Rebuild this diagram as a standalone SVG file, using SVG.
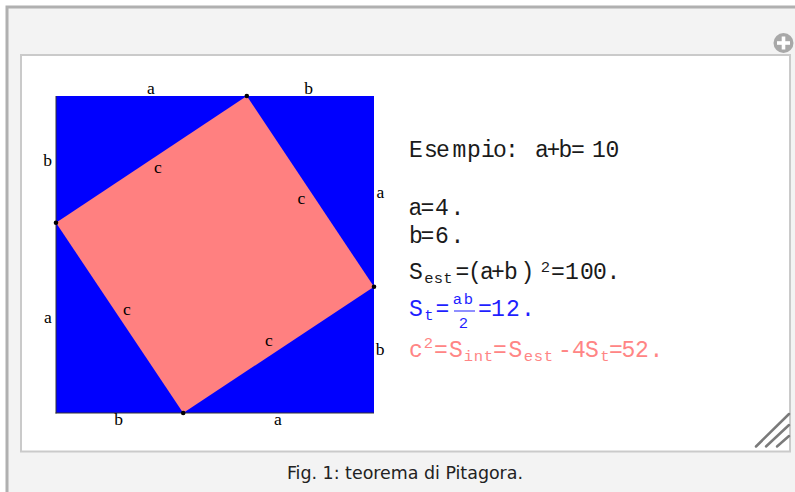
<svg xmlns="http://www.w3.org/2000/svg" width="795" height="492" viewBox="0 0 795 492">
<style>
.lbl{font-family:"Liberation Serif","Times New Roman",serif;font-size:17.5px;fill:#000;text-anchor:middle}
.mono{font-family:"Liberation Mono","Courier New",monospace;font-size:23px;text-anchor:middle}
.sub{font-family:"Liberation Mono","Courier New",monospace;font-size:15.5px;text-anchor:middle}
.k{fill:#1a1a1a}
.bl{fill:#1f1fff}
.pk{fill:#ff8585}
.dot{fill:#000}
.hl{stroke:#7a7a7a;stroke-width:2.5;stroke-linecap:round}
</style>
<g id="frame">
<rect x="7" y="7" width="800" height="500" fill="#f3f3f3" stroke="#b0b0b0" stroke-width="3"/>
<rect x="21" y="55" width="769" height="396.5" fill="#fff" stroke="#cacaca" stroke-width="2"/>
</g>
<g id="plus-icon">
<circle cx="783.5" cy="43" r="10" fill="#a8a8a8"/>
<rect x="777" y="41.2" width="13" height="3.6" fill="#fff"/>
<rect x="781.7" y="36.5" width="3.6" height="13" fill="#fff"/>
</g>
<g id="resize-handle">
<line class="hl" x1="756" y1="446.5" x2="789" y2="414"/>
<line class="hl" x1="766" y1="446.5" x2="789" y2="425"/>
<line class="hl" x1="777" y1="446.5" x2="789" y2="436"/>
</g>
<g id="outer-square">
<rect x="56" y="96" width="318" height="317" fill="#0000ff"/>
<line x1="56" y1="96" x2="56" y2="413.5" stroke="#333" stroke-width="1"/>
<line x1="55.5" y1="413" x2="374" y2="413" stroke="#333" stroke-width="1"/>
</g>
<g id="inner-square">
<polygon points="246.8,96 374,286.8 183.2,413 56,222.8" fill="#ff8080"/>
</g>
<g id="vertices">
<circle class="dot" cx="246.8" cy="96" r="2.3"/>
<circle class="dot" cx="374" cy="286.8" r="2.3"/>
<circle class="dot" cx="183.2" cy="413" r="2.3"/>
<circle class="dot" cx="56" cy="222.8" r="2.3"/>
</g>
<g id="side-labels">
<text class="lbl" x="151" y="94">a</text>
<text class="lbl" x="308.5" y="94">b</text>
<text class="lbl" x="47.5" y="165.5">b</text>
<text class="lbl" x="380.5" y="197.5">a</text>
<text class="lbl" x="48" y="323">a</text>
<text class="lbl" x="380" y="354.5">b</text>
<text class="lbl" x="118.5" y="425">b</text>
<text class="lbl" x="278" y="425">a</text>
<text class="lbl" x="158" y="172.5">c</text>
<text class="lbl" x="301.5" y="203.5">c</text>
<text class="lbl" x="127" y="315">c</text>
<text class="lbl" x="269" y="346">c</text>
</g>
<g id="formulas">
<text class="mono k" x="416 431 443 459.5 474 488 500 512 527 542 553.5 565.5 578 599 612.5" y="157">Esempio: a+b=10</text>
<text class="mono k" x="415.5 427.5 442 457.5" y="214.5">a=4.</text>
<text class="mono k" x="416 427.5 442 457.5" y="242.5">b=6.</text>
<g id="s-est">
<text class="mono k" x="416" y="279">S</text>
<text class="sub k" x="429 438.5 448" y="282.5">est</text>
<text class="mono k" x="462.5 475 487 498 511 527.5" y="279">=(a+b)</text>
<text class="sub k" x="545.5" y="271.5">2</text>
<text class="mono k" x="558 572 587 600 613.5" y="279">=100.</text>
</g>
<g id="s-t">
<text class="mono bl" x="416" y="316">S</text>
<text class="sub bl" x="429" y="319.5">t</text>
<text class="mono bl" x="442.5" y="316">=</text>
<text class="sub bl" x="457.5 468.5" y="303.5">ab</text>
<line x1="454" y1="311" x2="475" y2="311" stroke="#1f1fff" stroke-width="1"/>
<text class="sub bl" x="463.5" y="328">2</text>
<text class="mono bl" x="485 498 513 528" y="316">=12.</text>
</g>
<g id="c2">
<text class="mono pk" x="416" y="357">c</text>
<text class="sub pk" x="428.5" y="348">2</text>
<text class="mono pk" x="441 456" y="357">=S</text>
<text class="sub pk" x="468.5 478.5 488.5" y="360.5">int</text>
<text class="mono pk" x="500 515.5" y="357">=S</text>
<text class="sub pk" x="528.5 538.5 548.5" y="360.5">est</text>
<text class="mono pk" x="565 579 592" y="357">-4S</text>
<text class="sub pk" x="605" y="360.5">t</text>
<text class="mono pk" x="616 628.5 642 656.5" y="357">=52.</text>
</g>
</g>
<g id="caption">
<text x="287" y="478.5" font-family="'DejaVu Sans Condensed','DejaVu Sans','Liberation Sans',sans-serif" font-size="17" textLength="236" lengthAdjust="spacingAndGlyphs" fill="#222">Fig. 1: teorema di Pitagora.</text>
</g>
</svg>
